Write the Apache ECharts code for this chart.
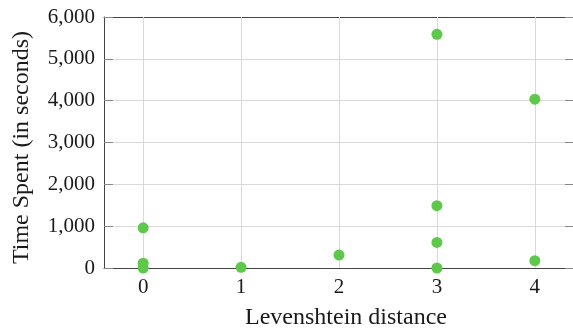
<!DOCTYPE html>
<html>
<head>
<meta charset="utf-8">
<script src="https://cdn.jsdelivr.net/npm/echarts@6/dist/echarts.min.js"></script>
<style>
  html, body { margin: 0; padding: 0; background: #fff; }
  #chart { width: 573px; height: 329px; }
</style>
</head>
<body>
<div id="chart"></div>
<script>
// Levenshtein distance of each attempt and the time it took
const distances = [0, 0, 0, 1, 2, 3, 3, 3, 3, 4, 4];
const timeSpent = [960, 115, 0, 15, 310, 5585, 1490, 610, 0, 4035, 175];
const xTicks = [0, 1, 2, 3, 4];
const yTicks = [0, 1000, 2000, 3000, 4000, 5000, 6000];

const points = distances.map((d, i) => [d, timeSpent[i]]);

const FONT = '"Liberation Serif", "DejaVu Serif", serif';
const TEXT = '#1a1a1a';
const FRAME = '#444';
const GRID = '#d9d9d9';
const TICK = '#888';

const fmt = v => Number(v).toLocaleString('en-US');

const chart = echarts.init(document.getElementById('chart'), null, { renderer: 'canvas' });

chart.setOption({
  animation: false,
  backgroundColor: '#fff',
  grid: { left: 104, top: 17, width: 470, height: 251, containLabel: false, outerBoundsMode: 'none' },
  xAxis: [
    {
      type: 'value', position: 'bottom', min: -0.4, max: 4.4,
      name: 'Levenshtein distance', nameLocation: 'middle', nameGap: 38,
      nameTextStyle: { fontFamily: FONT, fontSize: 24, color: TEXT, padding: [0, 0, 0, 14] },
      axisLine: { show: true, onZero: false, lineStyle: { color: FRAME, width: 1 } },
      axisTick: { show: true, inside: true, length: 9, customValues: xTicks, lineStyle: { color: TICK } },
      axisLabel: { customValues: xTicks, fontFamily: FONT, fontSize: 21, color: TEXT, margin: 9 },
      splitLine: { show: false }
    },
    {
      type: 'value', position: 'top', min: -0.4, max: 4.4,
      axisLine: { show: true, onZero: false, lineStyle: { color: FRAME, width: 1 } },
      axisTick: { show: true, inside: true, length: 9, customValues: xTicks, lineStyle: { color: TICK } },
      axisLabel: { show: false },
      splitLine: { show: false }
    }
  ],
  yAxis: [
    {
      type: 'value', position: 'left', min: yTicks[0], max: yTicks[yTicks.length - 1], interval: 1000,
      name: 'Time Spent (in seconds)', nameLocation: 'middle', nameGap: 70,
      nameTextStyle: { fontFamily: FONT, fontSize: 24, color: TEXT, padding: [0, 10, 0, 0] },
      axisLine: { show: true, onZero: false, lineStyle: { color: FRAME, width: 1 } },
      axisTick: { show: true, inside: true, length: 9, lineStyle: { color: TICK } },
      axisLabel: { fontFamily: FONT, fontSize: 21, color: TEXT, margin: 9, formatter: fmt },
      splitLine: { show: true, lineStyle: { color: GRID, width: 1 } }
    },
    {
      type: 'value', position: 'right', min: yTicks[0], max: yTicks[yTicks.length - 1], interval: 1000,
      axisLine: { show: true, onZero: false, lineStyle: { color: FRAME, width: 1 } },
      axisTick: { show: true, inside: true, length: 9, lineStyle: { color: TICK } },
      axisLabel: { show: false },
      splitLine: { show: false }
    }
  ],
  series: [
    {
      // vertical grid lines at each integer distance
      type: 'line', data: [], silent: true,
      markLine: {
        silent: true, symbol: 'none', label: { show: false },
        lineStyle: { color: GRID, width: 1, type: 'solid' },
        data: xTicks.map(v => ({ xAxis: v }))
      },
      z: 1
    },
    {
      type: 'scatter', data: points, symbol: 'circle', symbolSize: 11,
      itemStyle: { color: '#5ec84a', opacity: 1 },
      clip: false, z: 5
    }
  ]
});
</script>
</body>
</html>
